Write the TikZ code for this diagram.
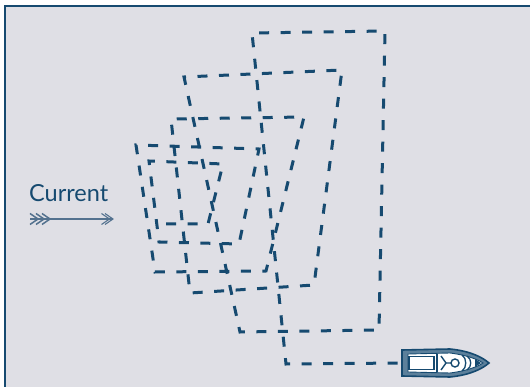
\documentclass[tikz,border=0pt]{standalone}
\usepackage{fontspec}
\setsansfont{Lato}
\definecolor{navy}{RGB}{22,74,112}
\definecolor{sea}{RGB}{223,223,229}
\definecolor{steel}{RGB}{84,114,143}

\begin{document}
\begin{tikzpicture}[x=1pt,y=-1pt,
  track/.style={navy,line width=3pt,dash pattern=on 10pt off 11.5pt},
  flow/.style={steel,line width=1.1pt},
  hull/.style={navy,line width=1.6pt,fill=navy!70},
  label/.style={navy,inner sep=0pt,font=\sffamily\fontsize{23.5}{23.5}\selectfont}]

  \useasboundingbox (0,0) rectangle (530,387);
  \fill[white] (0,0) rectangle (530,387);
  \fill[sea] (5,6) rectangle (530,387);
  \draw[navy,line width=1.5pt] (5,387) -- (5,6) -- (530,6);

  % current
  \node[label,anchor=base west] (current) at (29,202) {Current};
  \coordinate (tail) at (30,219);
  \coordinate (head) at (113,219);
  \draw[flow] (tail) -- (head);
  \foreach \i in {0,1,2}
    \draw[flow,line width=1.5pt] ([xshift=\i*6pt,yshift=5.5pt]tail) -- ([xshift=\i*6pt+8pt]tail) -- ([xshift=\i*6pt,yshift=-5.5pt]tail);
  \foreach \i in {0,3.5}
    \draw[flow] ([xshift=-\i pt-8pt,yshift=5.5pt]head) -- ([xshift=-\i pt]head) -- ([xshift=-\i pt-8pt,yshift=-5.5pt]head);

  % search track
  \foreach \n/\x/\y in {0/166/224, 1/208/224, 2/223/164, 3/149/161, 4/159/242,
      5/239/244, 6/259/149, 7/136/145, 8/155/272, 9/266/271, 10/304/117,
      11/171/119, 12/190/293, 13/314/285, 14/342/70, 15/184/77, 16/240/332,
      17/379/330, 18/385/31, 19/252/33, 20/286/364, 21/402/363}
    \coordinate (t\n) at (\x,\y);
  \draw[track] (t0) \foreach \n in {1,...,21} { -- (t\n) };

  % boat
  \draw[hull] (t21) ++(0,-13) -- (450,349) .. controls (470,351) and (482,357) .. (489,363)
    .. controls (482,369) and (470,375) .. (450,377) -- (402,376) -- cycle;
  \draw[navy,line width=0.9pt,fill=white] (408,354) -- (450,353) .. controls (466,355) and (477,359) .. (483,363)
    .. controls (477,367) and (466,371) .. (450,373) -- (408,372) -- cycle;
  \draw[navy,line width=1.4pt] (409,356.5) rectangle (434,369.5);
  \draw[navy,line width=2.6pt] (437,354) -- (437,372);
  \draw[navy,line width=1.4pt] (441,356) -- (446,363) -- (441,370) (446,363) -- (451,363);
  \draw[navy,line width=1.4pt] (455,363) circle (4);
  \draw[navy,line width=1.3pt] (462,355) .. controls (467,358) and (467,368) .. (462,371);
  \draw[navy,line width=1.3pt] (467,356) .. controls (472,359) and (472,367) .. (467,370);
  \fill[navy] (475,359) -- (481,363) -- (475,367) -- cycle;
\end{tikzpicture}
\end{document}
